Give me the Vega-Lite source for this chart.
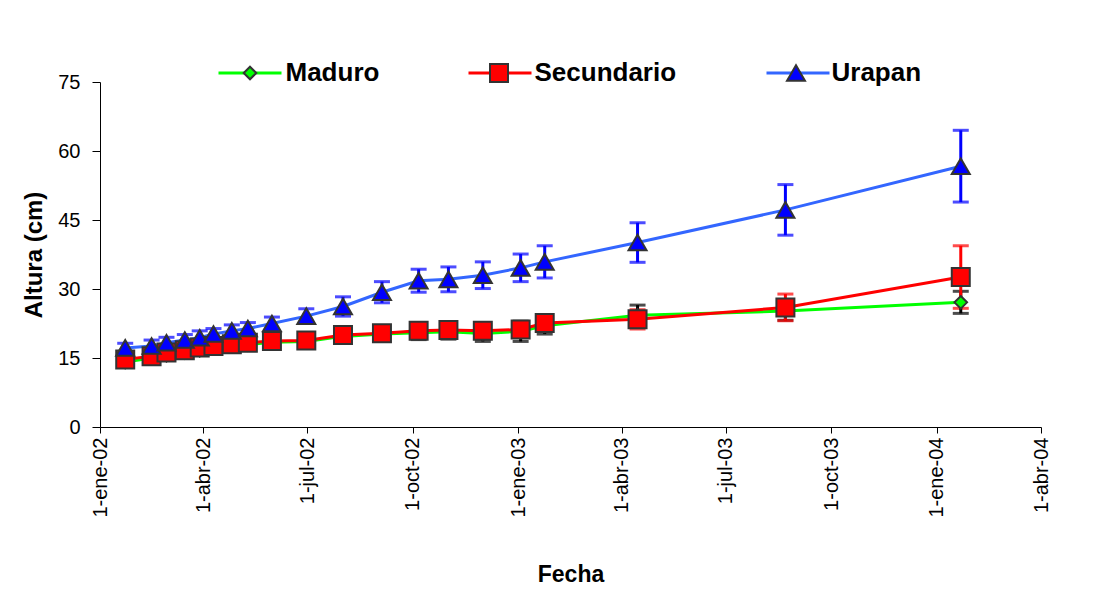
{
  "$schema": "https://vega.github.io/schema/vega-lite/v6.json",
  "width": 941,
  "height": 345,
  "autosize": {"type": "none"},
  "padding": {"left": 100, "top": 82, "right": 55, "bottom": 165},
  "background": "white",
  "config": {
    "view": {"stroke": null},
    "font": "Liberation Sans",
    "axis": {"grid": false, "domainColor": "#000000", "tickColor": "#000000", "labelColor": "#000000", "titleColor": "#000000", "labelFont": "Liberation Sans", "titleFont": "Liberation Sans"}
  },
  "data": {
    "values": [
      {"fecha": "2002-01-23", "serie": "Maduro", "altura": 14.1, "err": 0.9},
      {"fecha": "2002-02-15", "serie": "Maduro", "altura": 15.0, "err": 0.9},
      {"fecha": "2002-02-28", "serie": "Maduro", "altura": 15.6, "err": 1.0},
      {"fecha": "2002-03-16", "serie": "Maduro", "altura": 16.2, "err": 1.0},
      {"fecha": "2002-03-29", "serie": "Maduro", "altura": 16.7, "err": 1.0},
      {"fecha": "2002-04-10", "serie": "Maduro", "altura": 17.1, "err": 1.1},
      {"fecha": "2002-04-26", "serie": "Maduro", "altura": 17.6, "err": 1.1},
      {"fecha": "2002-05-10", "serie": "Maduro", "altura": 17.9, "err": 1.1},
      {"fecha": "2002-05-31", "serie": "Maduro", "altura": 18.4, "err": 1.2},
      {"fecha": "2002-06-30", "serie": "Maduro", "altura": 18.6, "err": 1.2},
      {"fecha": "2002-08-01", "serie": "Maduro", "altura": 19.7, "err": 1.3},
      {"fecha": "2002-09-04", "serie": "Maduro", "altura": 20.2, "err": 1.4},
      {"fecha": "2002-10-06", "serie": "Maduro", "altura": 20.5, "err": 1.5},
      {"fecha": "2002-11-01", "serie": "Maduro", "altura": 20.7, "err": 1.6},
      {"fecha": "2002-12-01", "serie": "Maduro", "altura": 20.3, "err": 1.7},
      {"fecha": "2003-01-03", "serie": "Maduro", "altura": 20.8, "err": 2.2},
      {"fecha": "2003-01-24", "serie": "Maduro", "altura": 22.0, "err": 1.8},
      {"fecha": "2003-04-15", "serie": "Maduro", "altura": 24.3, "err": 2.2},
      {"fecha": "2003-08-22", "serie": "Maduro", "altura": 25.2, "err": 2.0},
      {"fecha": "2004-01-22", "serie": "Maduro", "altura": 27.1, "err": 2.4},
      {"fecha": "2002-01-23", "serie": "Secundario", "altura": 14.7, "err": 0.8},
      {"fecha": "2002-02-15", "serie": "Secundario", "altura": 15.4, "err": 0.9},
      {"fecha": "2002-02-28", "serie": "Secundario", "altura": 16.2, "err": 0.9},
      {"fecha": "2002-03-16", "serie": "Secundario", "altura": 16.7, "err": 1.0},
      {"fecha": "2002-03-29", "serie": "Secundario", "altura": 17.3, "err": 1.0},
      {"fecha": "2002-04-10", "serie": "Secundario", "altura": 17.6, "err": 1.0},
      {"fecha": "2002-04-26", "serie": "Secundario", "altura": 18.0, "err": 1.1},
      {"fecha": "2002-05-10", "serie": "Secundario", "altura": 18.3, "err": 1.1},
      {"fecha": "2002-05-31", "serie": "Secundario", "altura": 18.7, "err": 1.1},
      {"fecha": "2002-06-30", "serie": "Secundario", "altura": 18.8, "err": 1.2},
      {"fecha": "2002-08-01", "serie": "Secundario", "altura": 20.0, "err": 1.2},
      {"fecha": "2002-09-04", "serie": "Secundario", "altura": 20.4, "err": 1.3},
      {"fecha": "2002-10-06", "serie": "Secundario", "altura": 20.9, "err": 1.4},
      {"fecha": "2002-11-01", "serie": "Secundario", "altura": 21.1, "err": 1.5},
      {"fecha": "2002-12-01", "serie": "Secundario", "altura": 20.9, "err": 1.6},
      {"fecha": "2003-01-03", "serie": "Secundario", "altura": 21.2, "err": 1.6},
      {"fecha": "2003-01-24", "serie": "Secundario", "altura": 22.6, "err": 1.8},
      {"fecha": "2003-04-15", "serie": "Secundario", "altura": 23.4, "err": 2.1},
      {"fecha": "2003-08-22", "serie": "Secundario", "altura": 26.0, "err": 2.9},
      {"fecha": "2004-01-22", "serie": "Secundario", "altura": 32.6, "err": 6.8},
      {"fecha": "2002-01-23", "serie": "Urapan", "altura": 17.2, "err": 1.0},
      {"fecha": "2002-02-15", "serie": "Urapan", "altura": 17.6, "err": 1.3},
      {"fecha": "2002-02-28", "serie": "Urapan", "altura": 18.3, "err": 1.2},
      {"fecha": "2002-03-16", "serie": "Urapan", "altura": 18.9, "err": 1.2},
      {"fecha": "2002-03-29", "serie": "Urapan", "altura": 19.4, "err": 1.5},
      {"fecha": "2002-04-10", "serie": "Urapan", "altura": 20.2, "err": 1.2},
      {"fecha": "2002-04-26", "serie": "Urapan", "altura": 20.9, "err": 1.3},
      {"fecha": "2002-05-10", "serie": "Urapan", "altura": 21.4, "err": 1.3},
      {"fecha": "2002-05-31", "serie": "Urapan", "altura": 22.5, "err": 1.4},
      {"fecha": "2002-06-30", "serie": "Urapan", "altura": 24.1, "err": 1.6},
      {"fecha": "2002-08-01", "serie": "Urapan", "altura": 26.2, "err": 2.1},
      {"fecha": "2002-09-04", "serie": "Urapan", "altura": 29.3, "err": 2.3},
      {"fecha": "2002-10-06", "serie": "Urapan", "altura": 31.8, "err": 2.5},
      {"fecha": "2002-11-01", "serie": "Urapan", "altura": 32.1, "err": 2.7},
      {"fecha": "2002-12-01", "serie": "Urapan", "altura": 33.0, "err": 2.9},
      {"fecha": "2003-01-03", "serie": "Urapan", "altura": 34.6, "err": 3.0},
      {"fecha": "2003-01-24", "serie": "Urapan", "altura": 35.9, "err": 3.5},
      {"fecha": "2003-04-15", "serie": "Urapan", "altura": 40.1, "err": 4.3},
      {"fecha": "2003-08-22", "serie": "Urapan", "altura": 47.2, "err": 5.5},
      {"fecha": "2004-01-22", "serie": "Urapan", "altura": 56.7, "err": 7.8}
    ]
  },
  "encoding": {
    "x": {
      "field": "fecha",
      "type": "temporal",
      "scale": {"type": "utc", "domain": [{"year": 2002, "month": 1, "date": 1, "utc": true}, {"year": 2004, "month": 4, "date": 1, "utc": true}]},
      "axis": {
        "values": [
          {"year": 2002, "month": 1, "date": 1, "utc": true},
          {"year": 2002, "month": 4, "date": 1, "utc": true},
          {"year": 2002, "month": 7, "date": 1, "utc": true},
          {"year": 2002, "month": 10, "date": 1, "utc": true},
          {"year": 2003, "month": 1, "date": 1, "utc": true},
          {"year": 2003, "month": 4, "date": 1, "utc": true},
          {"year": 2003, "month": 7, "date": 1, "utc": true},
          {"year": 2003, "month": 10, "date": 1, "utc": true},
          {"year": 2004, "month": 1, "date": 1, "utc": true},
          {"year": 2004, "month": 4, "date": 1, "utc": true}
        ],
        "labelExpr": "utcdate(datum.value) + '-' + ['ene','feb','mar','abr','may','jun','jul','ago','sep','oct','nov','dic'][utcmonth(datum.value)] + '-' + utcFormat(datum.value, '%y')",
        "labelAngle": -90,
        "labelFontSize": 20,
        "labelPadding": 4,
        "tickSize": 6,
        "labelFlush": false,
        "labelOverlap": false,
        "title": "Fecha",
        "titleFontSize": 23,
        "titleFontWeight": "bold",
        "titlePadding": 46
      }
    },
    "y": {
      "field": "altura",
      "type": "quantitative",
      "scale": {"domain": [0, 75], "nice": false},
      "axis": {
        "values": [0, 15, 30, 45, 60, 75],
        "labelFontSize": 20,
        "labelPadding": 12,
        "tickSize": 8,
        "title": "Altura (cm)",
        "titleFontSize": 24,
        "titleFontWeight": "bold",
        "titlePadding": 11
      }
    }
  },
  "resolve": {"scale": {"stroke": "independent"}, "legend": {"stroke": "independent"}},
  "layer": [
    {
      "mark": {"type": "errorbar", "thickness": 3, "ticks": {"size": 16}},
      "encoding": {
        "yError": {"field": "err"},
        "color": {
          "field": "serie",
          "type": "nominal",
          "scale": {"domain": ["Maduro", "Secundario", "Urapan"], "range": ["#000000", "#FF0000", "#0000FF"]},
          "legend": null
        }
      }
    },
    {
      "mark": {"type": "line", "strokeWidth": 3},
      "encoding": {
        "stroke": {
          "field": "serie",
          "type": "nominal",
          "scale": {"domain": ["Maduro", "Secundario", "Urapan"], "range": ["#00FF00", "#FF0000", "#3366FF"]},
          "legend": {
            "orient": "none", "legendX": 137, "legendY": -22, "direction": "horizontal", "title": null,
            "symbolType": "M-3.5,0H3.5", "symbolSize": 324, "symbolStrokeWidth": 3,
            "labelFont": "Liberation Sans", "labelFontSize": 26, "labelFontWeight": "bold", "labelOpacity": 0,
            "labelOffset": 22.5, "columnPadding": 82, "padding": 0, "zindex": 1
          }
        }
      }
    },
    {
      "mark": {"type": "point", "filled": true, "size": 324, "stroke": "#333333", "strokeWidth": 2, "opacity": 1},
      "encoding": {
        "fill": {
          "field": "serie",
          "type": "nominal",
          "scale": {"range": ["#00FF00", "#FF0000", "#0000FF"]},
          "legend": {
            "orient": "none", "legendX": 137, "legendY": -22, "direction": "horizontal", "title": null,
            "symbolSize": 324, "symbolStrokeColor": "#333333", "symbolStrokeWidth": 2, "symbolOpacity": 1,
            "labelFont": "Liberation Sans", "labelFontSize": 26, "labelFontWeight": "bold", "labelColor": "#000000",
            "labelOffset": 22.5, "columnPadding": 106, "padding": 0, "zindex": 2,
            "encode": {"symbols": {"update": {"stroke": {"value": "#333333"}, "strokeWidth": {"value": 2}}}}
          }
        },
        "shape": {
          "field": "serie",
          "type": "nominal",
          "scale": {"range": ["M0,-0.7L0.7,0L0,0.7L-0.7,0Z", "square", "triangle-up"]},
          "legend": {
            "orient": "none", "legendX": 137, "legendY": -22, "direction": "horizontal", "title": null,
            "symbolSize": 324, "symbolStrokeColor": "#333333", "symbolStrokeWidth": 2, "symbolOpacity": 1,
            "labelFont": "Liberation Sans", "labelFontSize": 26, "labelFontWeight": "bold", "labelColor": "#000000",
            "labelOffset": 22.5, "columnPadding": 106, "padding": 0, "zindex": 2,
            "encode": {"symbols": {"update": {"stroke": {"value": "#333333"}, "strokeWidth": {"value": 2}}}}
          }
        }
      }
    }
  ]
}
